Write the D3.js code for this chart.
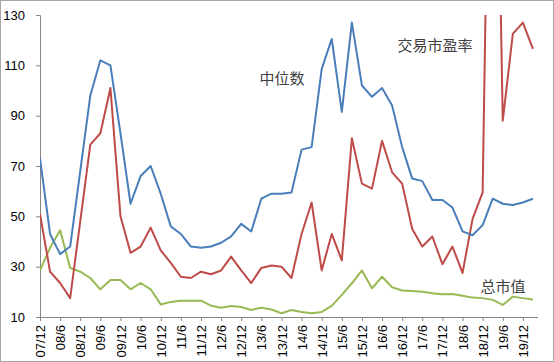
<!DOCTYPE html>
<html>
<head>
<meta charset="utf-8">
<script src="https://cdn.jsdelivr.net/npm/d3@7/dist/d3.min.js"></script>
<style>
  body { margin: 0; background: #fff; }
  svg { display: block; }
</style>
</head>
<body>
<div id="chart"></div>
<script>
// quarters, 07/12 .. 20/3
var quarters = ["07/12","08/3","08/6","08/9","08/12","09/3","09/6","09/9","09/12","10/3",
  "10/6","10/9","10/12","11/3","11/6","11/9","11/12","12/3","12/6","12/9",
  "12/12","13/3","13/6","13/9","13/12","14/3","14/6","14/9","14/12","15/3",
  "15/6","15/9","15/12","16/3","16/6","16/9","16/12","17/3","17/6","17/9",
  "17/12","18/3","18/6","18/9","18/12","19/3","19/6","19/9","19/12","20/3"];

var tickLabels = ["07/12","08/6","08/12","09/6","09/12","10/6","10/12","11/6","11/12","12/6",
  "12/12","13/6","13/12","14/6","14/12","15/6","15/12","16/6","16/12","17/6",
  "17/12","18/6","18/12","19/6","19/12"];

var yTicks = [10, 30, 50, 70, 90, 110, 130];

// 中位数
var median = [73, 43, 35, 38, 68, 98, 112, 110, 83, 55, 66, 70, 59, 46, 43, 38, 37.5, 38, 39.5, 42,
  47, 44, 57, 59, 59, 59.5, 76.5, 77.5, 108.5, 120.5, 91.5, 127, 102, 97.5, 101, 94, 77.5, 65, 64, 56.5,
  56.5, 53.5, 44, 42.5, 46.5, 57, 55, 54.5, 55.5, 57];

// 交易市盈率
var tradePE = [51, 28, 23.5, 17.5, 48, 78.5, 83, 101, 50, 35.5, 38, 45.5, 36.5, 31.5, 26, 25.5, 28, 27, 28.5, 34,
  28.5, 23.5, 29.5, 30.5, 30, 25.5, 43, 55.5, 28.5, 43, 32.5, 81, 63, 61, 80, 67.5, 63, 45, 38, 42,
  31, 38, 27.5, 49, 59.5, 310, 88, 122.5, 127, 116.5];

// 总市值
var totalCap = [28.5, 37.5, 44.5, 29.5, 28, 25.5, 21, 24.7, 24.7, 21, 23.5, 21, 15, 16, 16.5, 16.5, 16.5, 14.5, 13.7, 14.4,
  14, 12.8, 13.7, 13, 11.5, 12.8, 12, 11.5, 12, 14.4, 18.8, 23.4, 28.5, 21.4, 26, 21.8, 20.5, 20.3, 20, 19.4,
  19, 19.1, 18.4, 17.7, 17.5, 16.8, 14.8, 18.1, 17.5, 17];

var seriesNames = ["中位数", "交易市盈率", "总市值"];

var width = 554, height = 362;
var plot = { left: 40, right: 538, top: 15, bottom: 317 };

var svg = d3.select("#chart").append("svg")
  .attr("width", width)
  .attr("height", height);

// chart border
svg.append("rect")
  .attr("x", 0.5).attr("y", 0.5)
  .attr("width", width - 1).attr("height", height - 1)
  .attr("fill", "#fff")
  .attr("stroke", "#a6a6a6");

var x = d3.scalePoint()
  .domain(quarters)
  .range([plot.left, plot.left + 10.06 * (quarters.length - 1)]);

var y = d3.scaleLinear()
  .domain([10, 130])
  .range([plot.bottom, plot.top]);

svg.append("clipPath").attr("id", "plotclip")
  .append("rect")
  .attr("x", plot.left).attr("y", plot.top)
  .attr("width", plot.right - plot.left).attr("height", plot.bottom - plot.top);

// y axis
var yAxis = svg.append("g")
  .attr("transform", "translate(" + plot.left + ",0)")
  .call(d3.axisLeft(y).tickValues(yTicks).tickSize(4).tickPadding(11));
yAxis.select(".domain").attr("stroke", "#868686");
yAxis.selectAll(".tick line").attr("stroke", "#868686");
yAxis.selectAll("text")
  .attr("font-family", "'Liberation Sans', Arial, sans-serif")
  .attr("font-size", 13)
  .attr("fill", "#000");

// x axis
var xAxis = svg.append("g")
  .attr("transform", "translate(0," + plot.bottom + ")")
  .call(d3.axisBottom(x).tickValues(tickLabels).tickSize(4).tickSizeOuter(0));
xAxis.select(".domain")
  .attr("d", "M" + plot.left + ",0.5H" + plot.right)
  .attr("stroke", "#868686");
xAxis.selectAll(".tick line").attr("stroke", "#868686");
xAxis.selectAll("text")
  .attr("font-family", "'Liberation Sans', Arial, sans-serif")
  .attr("font-size", 13)
  .attr("fill", "#000")
  .attr("text-anchor", "end")
  .attr("transform", "rotate(-90)")
  .attr("x", -8)
  .attr("y", 0)
  .attr("dy", "0.35em");

// lines
var line = d3.line()
  .x(function(d, i) { return x(quarters[i]); })
  .y(function(d) { return y(d); });

var lines = svg.append("g").attr("clip-path", "url(#plotclip)");

lines.append("path")
  .datum(totalCap)
  .attr("d", line)
  .attr("fill", "none")
  .attr("stroke", "#98b954")
  .attr("stroke-width", 2)
  .attr("stroke-linejoin", "round");

lines.append("path")
  .datum(tradePE)
  .attr("d", line)
  .attr("fill", "none")
  .attr("stroke", "#be4b48")
  .attr("stroke-width", 2)
  .attr("stroke-linejoin", "round");

lines.append("path")
  .datum(median)
  .attr("d", line)
  .attr("fill", "none")
  .attr("stroke", "#4a7ebb")
  .attr("stroke-width", 2)
  .attr("stroke-linejoin", "round");

// series labels
var labelPos = [[282, 84], [435, 51], [503, 292]];
svg.selectAll(".series-label")
  .data(seriesNames)
  .enter().append("text")
  .attr("class", "series-label")
  .attr("x", function(d, i) { return labelPos[i][0]; })
  .attr("y", function(d, i) { return labelPos[i][1]; })
  .attr("text-anchor", "middle")
  .attr("font-family", "'Noto Sans CJK SC', sans-serif")
  .attr("font-size", 15)
  .attr("fill", "#404040")
  .text(function(d) { return d; });
</script>
</body>
</html>
